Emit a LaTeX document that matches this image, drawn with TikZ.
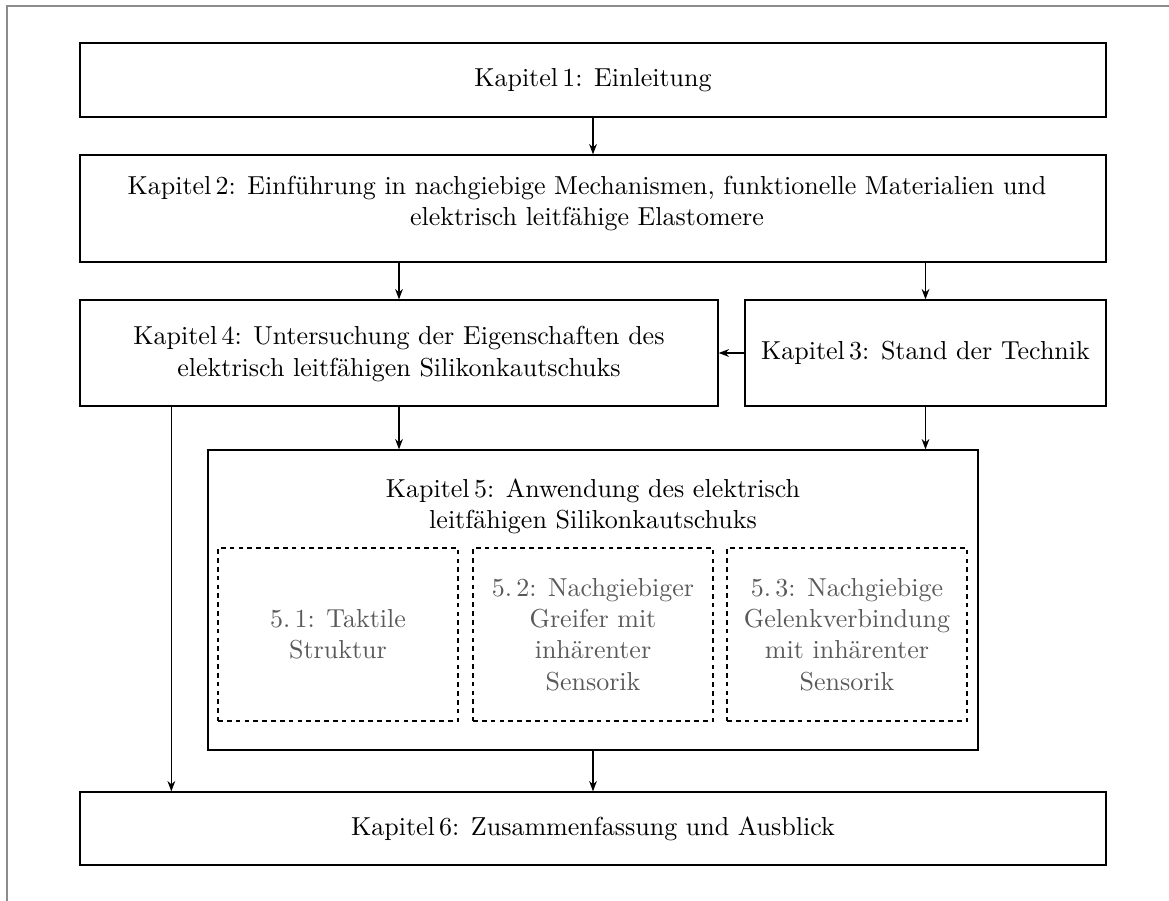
\documentclass[tikz,border=0pt]{standalone}
\usetikzlibrary{arrows.meta}
\begin{document}
\def\u{0.3846pt}
\begin{tikzpicture}[x=\u,y=-\u,
  font=\fontsize{10}{12}\selectfont,
  box/.style={draw,line width=0.5pt,align=center,inner sep=0pt},
  sub/.style={draw,dash pattern=on 1.8pt off 1.6pt,line width=0.5pt,inner sep=0pt,
    align=center,text=black!65,minimum width=240*\u,minimum height=173*\u},
  txt/.style={align=center,inner sep=0pt},
  link/.style={-{Stealth[length=4pt,width=3pt]},line width=0.5pt},
  frame/.style={draw=black!45,line width=0.5pt}]
\useasboundingbox (0,0) rectangle (1169,901);
% page frame
\draw[frame] (7,901) -- (7,6) -- (1169,6);

\node[box,minimum width=1026*\u,minimum height=74*\u] (k1) at (593,80) {Kapitel\,1: Einleitung};
\node[box,minimum width=1026*\u,minimum height=107*\u] (k2) at (593,208.5) {};
\node[txt] (k2t) at (587,203.5)
  {Kapitel\,2: Einführung in nachgiebige Mechanismen, funktionelle Materialien und\\elektrisch leitfähige Elastomere};
\node[box,minimum width=638*\u,minimum height=106*\u] (k4) at (399,353) {};
\node[txt] (k4t) at (399,354)
  {Kapitel\,4: Untersuchung der Eigenschaften des\\elektrisch leitfähigen Silikonkautschuks};
\node[box,minimum width=361*\u,minimum height=106*\u] (k3) at (925.5,353) {Kapitel\,3: Stand der Technik};
\node[box,minimum width=770*\u,minimum height=300*\u] (k5) at (593,600) {};
\node[txt] (k5t) at (593,506) {Kapitel\,5: Anwendung des elektrisch\\leitfähigen Silikonkautschuks};
\node[sub] (s1) at (338,634.5) {5.\,1: Taktile\\Struktur};
\node[sub] (s2) at (593,634.5) {5.\,2: Nachgiebiger\\Greifer mit\\inhärenter\\Sensorik};
\node[sub] (s3) at (847,634.5) {5.\,3: Nachgiebige\\Gelenkverbindung\\mit inhärenter\\Sensorik};
\node[box,minimum width=1026*\u,minimum height=73*\u] (k6) at (593,828.5) {Kapitel\,6: Zusammenfassung und Ausblick};

\draw[link] (k1.south) -- (k2.north);
\draw[link] (k2.south -| k4.north) -- (k4.north);
\draw[link] (k2.south -| k3.north) -- (k3.north);
\draw[link] (k3.west) -- (k4.east);
\draw[link] (k4.south) -- (k4.south |- k5.north);
\draw[link] (k3.south) -- (k3.south |- k5.north);
\draw[link] (k5.south) -- (k6.north);
\coordinate (k4l) at ([xshift=92*\u]k4.south west);
\draw[link] (k4l) -- (k4l |- k6.north);
\end{tikzpicture}
\end{document}
